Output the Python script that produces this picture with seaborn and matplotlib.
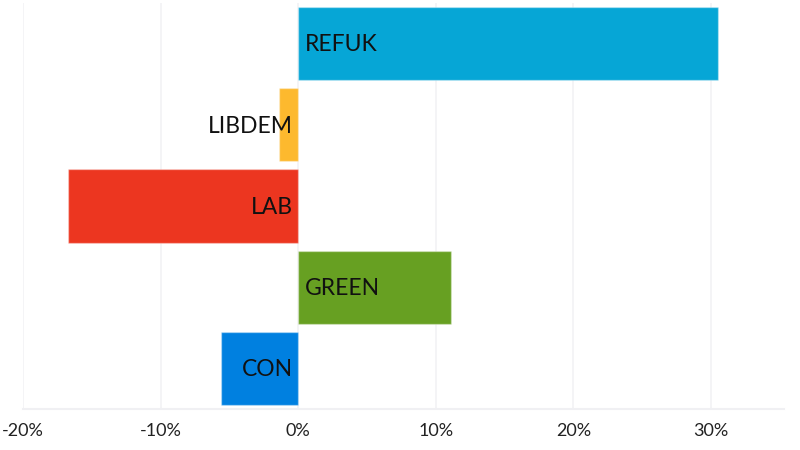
import matplotlib
matplotlib.use("Agg")
import matplotlib.pyplot as plt
import seaborn as sns
import pandas as pd
from matplotlib.ticker import FuncFormatter

parties = ["REFUK", "LIBDEM", "LAB", "GREEN", "CON"]
changes = [30.5, -1.4, -16.7, 11.1, -5.6]
colors = ["#06A6D6", "#FDB92E", "#EC3620", "#67A022", "#0080E0"]
tick_values = [-20, -10, 0, 10, 20, 30]

df = pd.DataFrame({"party": parties, "change": changes})

sns.set_theme(style="white")
plt.rcParams["font.family"] = ["Lato", "DejaVu Sans"]

fig = plt.figure(figsize=(8, 4.5), dpi=100)
ax = fig.add_axes([23 / 800, 41 / 450, (784 - 23) / 800, (409 - 3) / 450])

sns.barplot(data=df, x="change", y="party", hue="party", order=parties,
            palette=dict(zip(parties, colors)), legend=False, width=0.9,
            orient="h", ax=ax, zorder=3, saturation=1)

for patch in ax.patches:
    patch.set_edgecolor(matplotlib.colors.to_rgba("white", 0.35))
    patch.set_linewidth(1.0)

for i, (p, v) in enumerate(zip(parties, changes)):
    if v >= 0:
        ax.annotate(p, (0, i), xytext=(4.6, -1.0), textcoords="offset points",
                    ha="left", va="center", fontsize=16.5, color="#111111", zorder=5)
    else:
        ax.annotate(p, (0, i), xytext=(-3.5, -1.0), textcoords="offset points",
                    ha="right", va="center", fontsize=16.5, color="#111111", zorder=5)

ax.set_xlim(-20, 35.3)
ax.set_ylim(4.5, -0.5)
ax.set_xticks(tick_values)
ax.xaxis.set_major_formatter(FuncFormatter(lambda x, _: f"{x:.0f}%"))
ax.tick_params(axis="x", labelsize=13, colors="#222222", length=0, pad=10)
ax.set_yticks([])
ax.set_xlabel("")
ax.set_ylabel("")
ax.grid(axis="x", color="#f2f2f5", linewidth=1.2, zorder=0)
ax.set_axisbelow(True)
for s in ["top", "right", "left"]:
    ax.spines[s].set_visible(False)
ax.spines["bottom"].set_color("#f0f0f3")
ax.spines["bottom"].set_linewidth(1.5)

fig.savefig("out.png", dpi=100)
